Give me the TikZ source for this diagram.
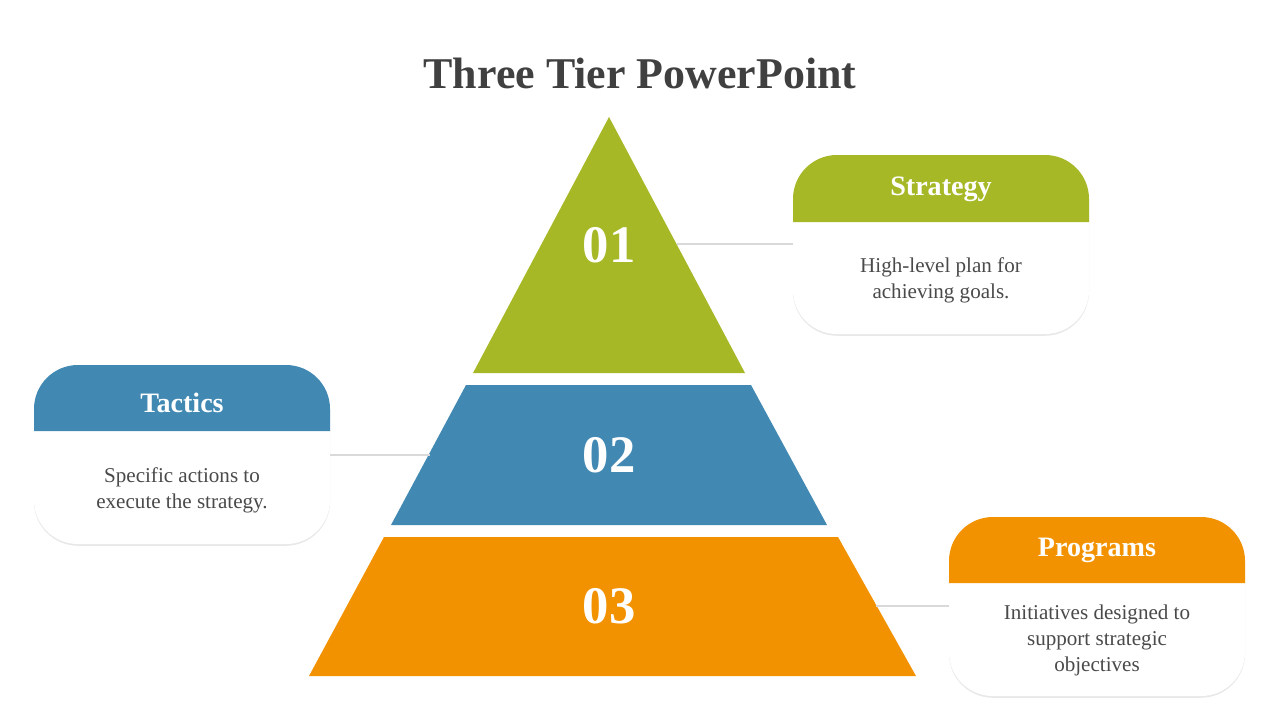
\documentclass[tikz,border=0pt]{standalone}
\usepackage{fontspec}
\setmainfont{Liberation Serif}
\usetikzlibrary{shadows}
\definecolor{tiergreen}{HTML}{A7B827}
\definecolor{tierblue}{HTML}{4189B3}
\definecolor{tierorange}{HTML}{F39200}
\definecolor{titlegray}{HTML}{404040}
\definecolor{bodygray}{HTML}{4A4A4A}
\tikzset{
  cardbody/.style={fill=white,rounded corners=25,drop shadow={opacity=0.18,shadow xshift=0pt,shadow yshift=-1pt}},
  headtext/.style={text=white,font=\bfseries\fontsize{16}{18}\selectfont},
  bodytext/.style={text=bodygray,align=center,font=\fontsize{12}{14.8}\selectfont},
  tiernum/.style={text=white,font=\bfseries\fontsize{30}{32}\selectfont},
  link/.style={draw=black!15,line width=1.2pt}
}
\newcommand{\tiercard}[6]{% x1, ytop, yhead, color, title, body
  \fill[cardbody] (#1,#2) rectangle (#1+296,#2+179);
  \fill[#4] (#1,#3) [rounded corners=25] -- (#1,#2) -- (#1+296,#2) [sharp corners] -- (#1+296,#3) -- cycle;
}
\begin{document}
\begin{tikzpicture}[x=0.02cm,y=-0.02cm]
  \useasboundingbox (0,0) rectangle (1280,720);
  % title
  \node[text=titlegray,font=\bfseries\fontsize{25}{28}\selectfont] (title) at (640,73) {Three Tier PowerPoint};
  % tiers
  \fill[tiergreen] (609,117) -- (745,373) -- (473,373) -- cycle;
  \fill[tierblue] (466,385) -- (751,385) -- (827,525) -- (391,525) -- cycle;
  \fill[tierorange] (384,537) -- (838,537) -- (916,676) -- (309,676) -- cycle;
  \node[tiernum] (t1) at (609,245) {01};
  \node[tiernum] (t2) at (609,455) {02};
  \node[tiernum] (t3) at (609,606) {03};
  % cards
  \tiercard{793}{155}{222}{tiergreen}{}{}
  \tiercard{34}{365}{431}{tierblue}{}{}
  \tiercard{949}{517}{583}{tierorange}{}{}
  \node[headtext] (h1) at (941,189) {Strategy};
  \node[headtext] (h2) at (182,403) {Tactics};
  \node[headtext] (h3) at (1097,550) {Programs};
  \node[bodytext] (b1) at (941,280) {High-level plan for\\achieving goals.};
  \node[bodytext] (b2) at (182,490) {Specific actions to\\execute the strategy.};
  \node[bodytext] (b3) at (1097,640) {Initiatives designed to\\support strategic\\objectives};
  % connectors
  \coordinate (c1a) at (677,244); \coordinate (c1b) at (793,244);
  \coordinate (c2a) at (330,455); \coordinate (c2b) at (430,455);
  \coordinate (c3a) at (876,606); \coordinate (c3b) at (949,606);
  \draw[link] (c1a) -- (c1b);
  \draw[link] (c2a) -- (c2b);
  \draw[link] (c3a) -- (c3b);
\end{tikzpicture}
\end{document}
